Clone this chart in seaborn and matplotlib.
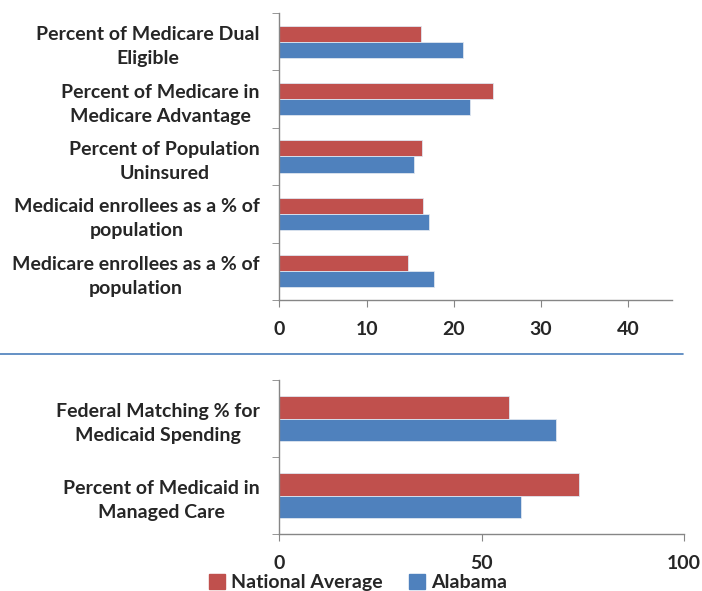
import pandas as pd
import matplotlib.pyplot as plt
import seaborn as sns
import numpy as np

# data
series = ['National Average', 'Alabama']
top_categories = ['Percent of Medicare Dual\nEligible',
                  'Percent of Medicare in\nMedicare Advantage',
                  'Percent of Population\nUninsured',
                  'Medicaid enrollees as a % of\npopulation',
                  'Medicare enrollees as a % of\npopulation']
top_national = [16.2, 24.5, 16.4, 16.5, 14.8]
top_alabama = [21.1, 21.8, 15.4, 17.2, 17.7]

bottom_categories = ['Federal Matching % for\nMedicaid Spending',
                     'Percent of Medicaid in\nManaged Care']
bottom_national = [56.7, 74.2]
bottom_alabama = [68.3, 59.8]

colors = ['#C0504D', '#4F81BD']

sns.set_style('white')
plt.rcParams['font.family'] = ['Lato', 'DejaVu Sans']
plt.rcParams['font.weight'] = 'bold'


def long_table(cats, nat, ala):
    return pd.DataFrame({
        'category': cats * 2,
        'series': [series[0]] * len(cats) + [series[1]] * len(cats),
        'value': nat + ala,
    })


fig = plt.figure(figsize=(7.02, 5.91), dpi=100)
ax1 = fig.add_axes([0.398, 0.4924, 0.559, 0.4856])
ax2 = fig.add_axes([0.398, 0.0964, 0.576, 0.2606])


def draw(ax, df, cats, xmax, xticks, width):
    sns.barplot(data=df, y='category', x='value', hue='series', order=cats,
                hue_order=series, palette=colors, orient='h', width=width,
                saturation=1, edgecolor='#dfe6f0', linewidth=0.6, ax=ax,
                legend=False)
    ax.set_xlim(0, xmax)
    ax.set_ylim(len(cats) - 0.5, -0.5)
    ax.set_xticks(xticks)
    ax.set_xticklabels([str(t) for t in xticks], fontsize=14, fontweight='bold')
    ax.set_yticks(range(len(cats)))
    ax.set_yticklabels(cats, fontsize=14, fontweight='bold',
                       multialignment='center', linespacing=1.5)
    ax.set_yticks(np.arange(-0.5, len(cats), 1), minor=True)
    ax.tick_params(axis='y', which='major', length=0, pad=14)
    ax.tick_params(axis='y', which='minor', length=5, color='#868686', left=True)
    ax.tick_params(axis='x', length=5, color='#868686', bottom=True, pad=10)
    ax.set_xlabel('')
    ax.set_ylabel('')
    for s in ['top', 'right']:
        ax.spines[s].set_visible(False)
    for s in ['left', 'bottom']:
        ax.spines[s].set_color('#868686')
        ax.spines[s].set_linewidth(1.0)


draw(ax1, long_table(top_categories, top_national, top_alabama),
     top_categories, 45, [0, 10, 20, 30, 40], 0.56)
draw(ax2, long_table(bottom_categories, bottom_national, bottom_alabama),
     bottom_categories, 100, [0, 50, 100], 0.59)

# separator line between the two panels
fig.add_artist(plt.Line2D([0.0, 0.973], [1 - 354 / 591] * 2,
                          color='#4A7EBB', linewidth=1.2))

handles = [plt.Rectangle((0, 0), 1, 1, color=c) for c in colors]
fig.legend(handles, series, loc='lower center', ncol=2, frameon=False,
           bbox_to_anchor=(0.51, -0.03), prop={'size': 14, 'weight': 'bold'},
           handlelength=0.8, handleheight=0.8, handletextpad=0.3, columnspacing=1.4)

plt.savefig('out.png', dpi=100)
